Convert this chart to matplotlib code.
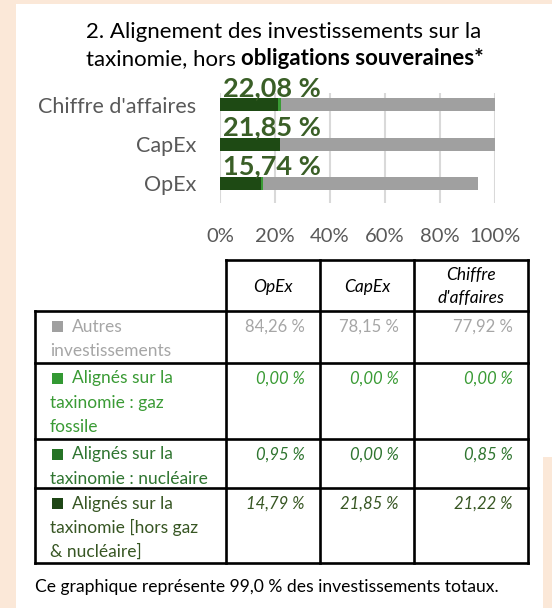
import matplotlib
matplotlib.use("Agg")
import matplotlib.pyplot as plt
from matplotlib.patches import Rectangle

plt.rcParams['font.family'] = ['Lato', 'DejaVu Sans']

# ---------------- data ----------------
categories = ["Chiffre d'affaires", "CapEx", "OpEx"]
bar_hors = [21.22, 21.85, 14.79]      # aligned excl. gas & nuclear
bar_gaz = [0.00, 0.00, 0.00]          # aligned: fossil gas
bar_nuc = [0.85, 0.00, 0.95]          # aligned: nuclear
bar_autres = [78.40, 78.15, 77.92]    # other investments (as drawn)
bar_labels = ["22,08 %", "21,85 %", "15,74 %"]
xticks = [0, 20, 40, 60, 80, 100]
xtick_labels = ["0%", "20%", "40%", "60%", "80%", "100%"]

table_cols = ["OpEx", "CapEx", "Chiffre\nd'affaires"]
row_names = [
    ["Autres", "investissements"],
    ["Alignés sur la", "taxinomie : gaz", "fossile"],
    ["Alignés sur la", "taxinomie : nucléaire"],
    ["Alignés sur la", "taxinomie [hors gaz", "& nucléaire]"],
]
row_values = [
    ["84,26 %", "78,15 %", "77,92 %"],
    ["0,00 %", "0,00 %", "0,00 %"],
    ["0,95 %", "0,00 %", "0,85 %"],
    ["14,79 %", "21,85 %", "21,22 %"],
]
title1 = "2. Alignement des investissements sur la"
title2a = "taxinomie, hors"
title2b = "obligations souveraines*"
footer = "Ce graphique représente 99,0 % des investissements totaux."

# ---------------- styles ----------------
C_BEIGE = "#FBE8D8"
C_GRAY_BAR = "#A0A0A0"
C_GAZ = "#3A9B35"
C_HORS = "#1E4A14"
C_LABEL = "#3A5F27"
C_AXTXT = "#595959"
row_txt_colors = ["#A6A6A6", "#3A9B35", "#2F7530", "#375623"]
row_sq_colors = ["#A0A0A0", "#339933", "#267326", "#1E4616"]
row_italic = [False, True, True, True]

W, H = 552, 608
fig = plt.figure(figsize=(W / 100, H / 100), dpi=100)
fig.patch.set_facecolor(C_BEIGE)

# pixel-coordinate background axes
bg = fig.add_axes([0, 0, 1, 1])
bg.set_xlim(0, W)
bg.set_ylim(H, 0)
bg.axis('off')
bg.add_patch(Rectangle((16, 4), W - 16, 453, facecolor='white', edgecolor='none'))
bg.add_patch(Rectangle((16, 456), 543 - 16, H - 456, facecolor='white', edgecolor='none'))

# ---------------- title ----------------
fig.canvas.draw()
r = fig.canvas.get_renderer()
TFS = 16
bg.text(284, 38, title1, fontsize=TFS, color='black', ha='center', va='baseline')
t2a = bg.text(0, 65, title2a, fontsize=TFS, color='black', ha='left', va='baseline')
t2b = bg.text(0, 65, title2b, fontsize=TFS, color='black', fontweight='bold',
              ha='left', va='baseline')
tmp1 = bg.text(0, 0, "a a", fontsize=TFS)
tmp2 = bg.text(0, 0, "aa", fontsize=TFS)
sp = tmp1.get_window_extent(r).width - tmp2.get_window_extent(r).width
tmp1.remove(); tmp2.remove()
wa = t2a.get_window_extent(r).width
wb = t2b.get_window_extent(r).width
total = wa + sp + wb
x0 = 285 - total / 2
t2a.set_x(x0)
t2b.set_x(x0 + wa + sp)

# ---------------- bar chart ----------------
ax = fig.add_axes([220 / W, 1 - 203 / H, 275 / W, 110 / H])
ax.set_facecolor('none')
ypos = list(range(len(categories)))
bh = 0.33
left = [0.0] * len(categories)
for vals, col in [(bar_hors, C_HORS), (bar_gaz, C_GAZ), (bar_nuc, C_GAZ), (bar_autres, C_GRAY_BAR)]:
    ax.barh(ypos, vals, left=left, height=bh, color=col, edgecolor='none', zorder=2)
    left = [a + b for a, b in zip(left, vals)]
ax.set_xlim(0, 100)
ax.set_ylim(2.5, -0.3)
ax.set_xticks(xticks)
ax.set_xticklabels(xtick_labels)
ax.set_yticks(ypos)
ax.set_yticklabels(categories)
ax.tick_params(axis='both', length=0, labelcolor=C_AXTXT)
ax.tick_params(axis='x', pad=18, labelsize=14.5)
ax.tick_params(axis='y', pad=17, labelsize=15.5)
ax.grid(axis='x', color='#D9D9D9', linewidth=1.5, zorder=0)
ax.set_axisbelow(True)
for s in ax.spines.values():
    s.set_visible(False)
for i, lab in enumerate(bar_labels):
    ax.text(1.1, ypos[i] - bh / 2 - 0.06, lab, fontsize=19.5, fontweight='bold',
            color=C_LABEL, ha='left', va='baseline', zorder=3)

# ---------------- table ----------------
col_x = [35, 226, 320, 414, 528]
row_y = [260, 311, 363, 439, 488, 563]
LW = 1.9
kw = dict(color='black', linewidth=LW, solid_capstyle='projecting')
bg.plot([col_x[1], col_x[-1]], [row_y[0], row_y[0]], **kw)
for yy in row_y[1:]:
    bg.plot([col_x[0], col_x[-1]], [yy, yy], **kw)
bg.plot([col_x[0], col_x[0]], [row_y[1], row_y[-1]], **kw)
for xx in col_x[1:]:
    bg.plot([xx, xx], [row_y[0], row_y[-1]], **kw)

FS_NAME = 12.5
FS_VAL = 12
FS_HEAD = 12.5
# header
for j, h in enumerate(table_cols):
    cx = (col_x[j + 1] + col_x[j + 2]) / 2
    lines = h.split("\n")
    if len(lines) == 1:
        bg.text(cx, 292, lines[0], fontsize=FS_HEAD, style='italic', color='black',
                ha='center', va='baseline')
    else:
        bg.text(cx, 280, lines[0], fontsize=FS_HEAD, style='italic', color='black',
                ha='center', va='baseline')
        bg.text(cx, 303, lines[1], fontsize=FS_HEAD, style='italic', color='black',
                ha='center', va='baseline')

LINE_H = 24.3
for i, names in enumerate(row_names):
    top = row_y[i + 1]
    base = top + 20.5
    colr = row_txt_colors[i]
    bg.add_patch(Rectangle((52, base - 10.5), 11, 10.5, facecolor=row_sq_colors[i],
                           edgecolor='none'))
    for k, line in enumerate(names):
        xx = 72 if k == 0 else 50
        bg.text(xx, base + k * LINE_H, line, fontsize=FS_NAME, color=colr,
                ha='left', va='baseline')
    for j, v in enumerate(row_values[i]):
        bg.text(col_x[j + 2] - 15, base, v, fontsize=FS_VAL, color=colr,
                style='italic' if row_italic[i] else 'normal',
                ha='right', va='baseline')

# ---------------- footer ----------------
bg.text(35, 592, footer, fontsize=12.6, color='black', ha='left', va='baseline')

fig.savefig("out.png", dpi=100, facecolor=fig.get_facecolor())
